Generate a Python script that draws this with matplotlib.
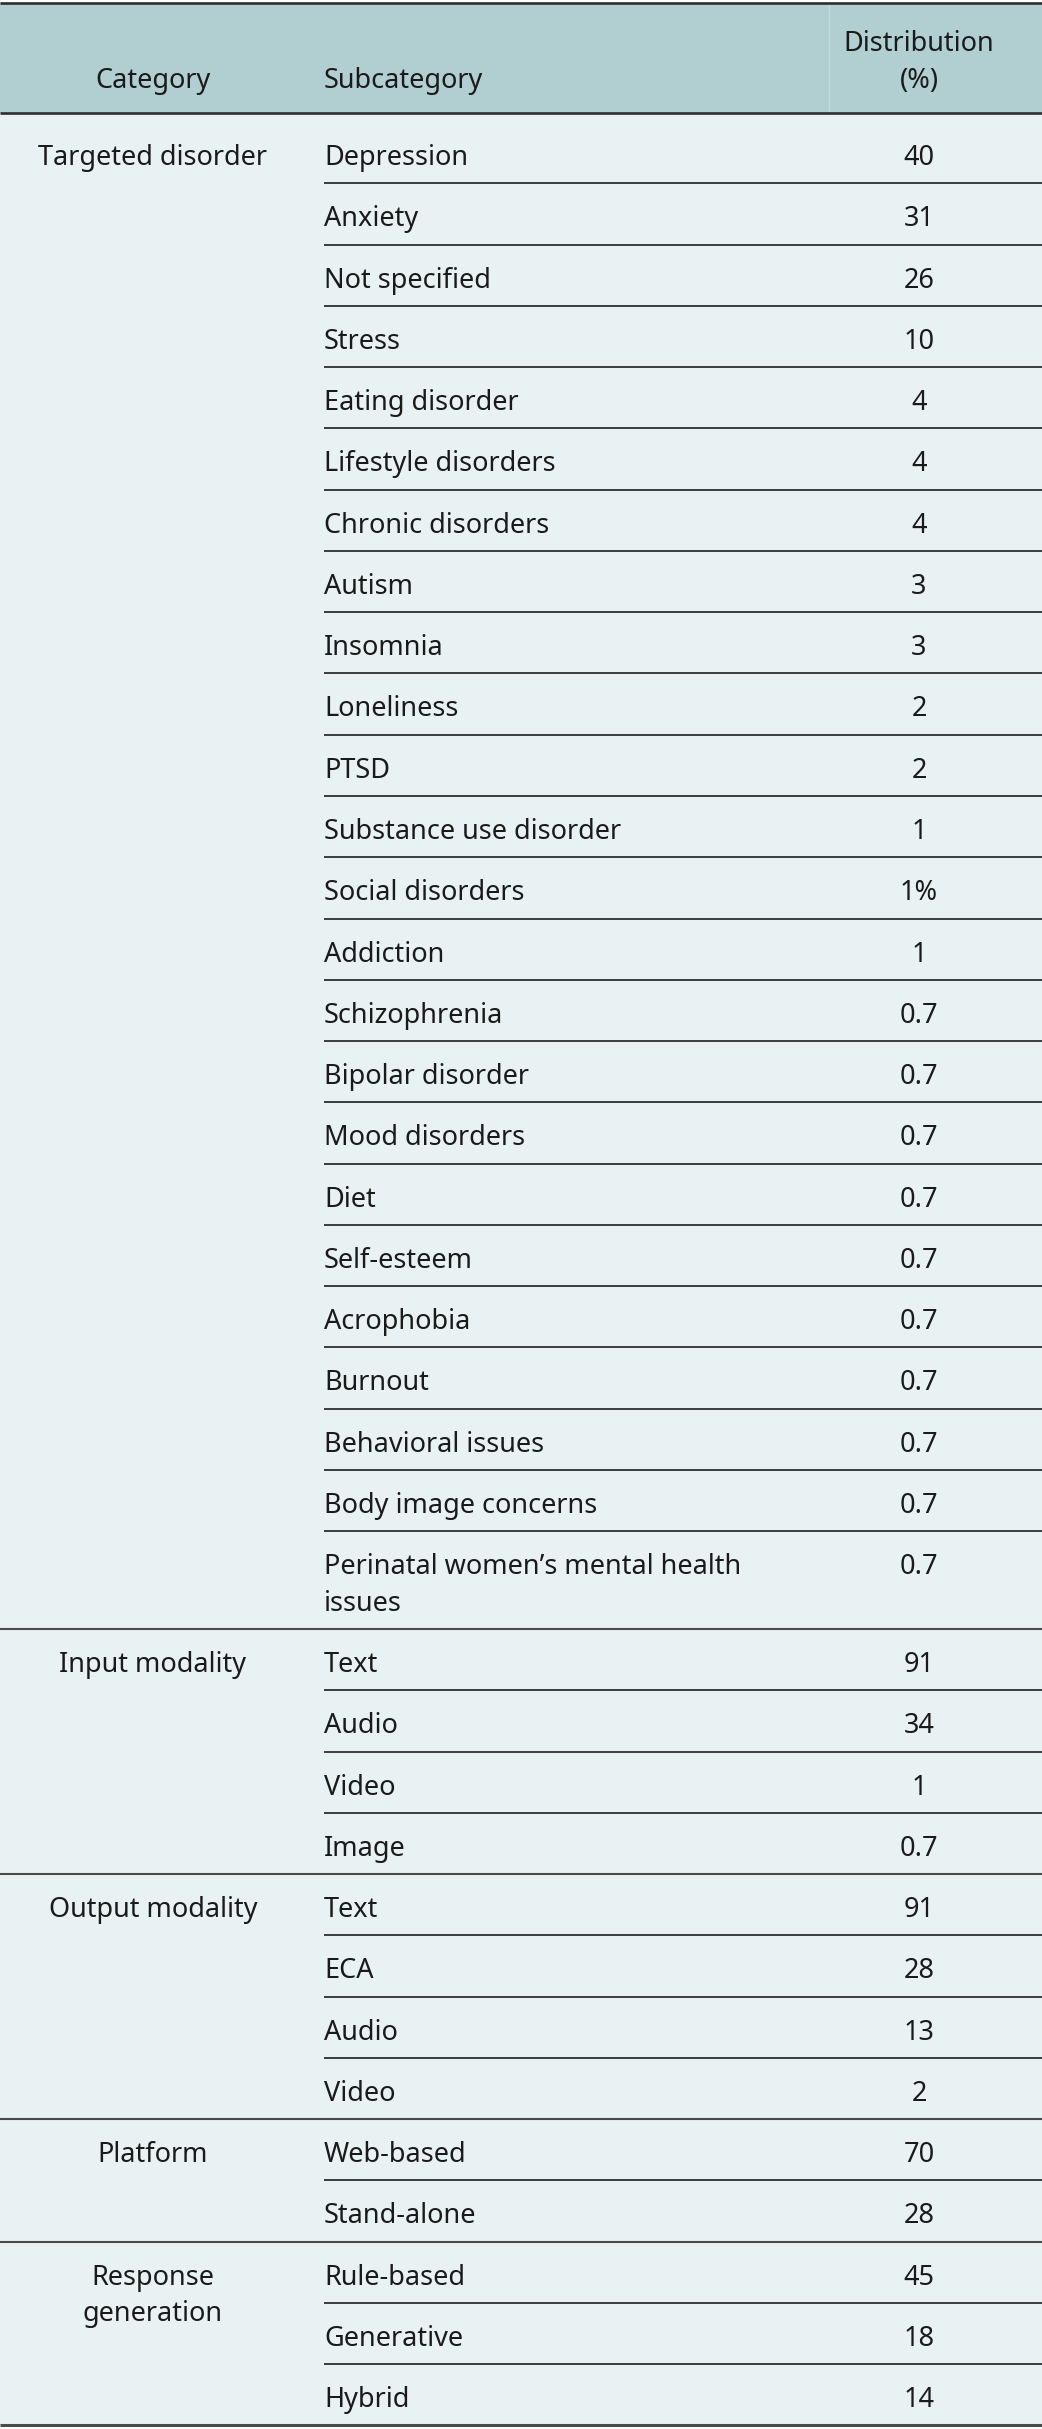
import matplotlib

matplotlib.use("Agg")
import matplotlib.pyplot as plt

# table content
categories = ["Targeted disorder", "Input modality", "Output modality", "Platform", "Response\ngeneration"]

targeted_sub = [
    "Depression", "Anxiety", "Not specified", "Stress", "Eating disorder",
    "Lifestyle disorders", "Chronic disorders", "Autism", "Insomnia", "Loneliness",
    "PTSD", "Substance use disorder", "Social disorders", "Addiction", "Schizophrenia",
    "Bipolar disorder", "Mood disorders", "Diet", "Self-esteem", "Acrophobia",
    "Burnout", "Behavioral issues", "Body image concerns",
    "Perinatal women\u2019s mental health\nissues",
]
targeted_pct = [
    "40", "31", "26", "10", "4", "4", "4", "3", "3", "2", "2", "1", "1%", "1",
    "0.7", "0.7", "0.7", "0.7", "0.7", "0.7", "0.7", "0.7", "0.7", "0.7",
]
input_sub = ["Text", "Audio", "Video", "Image"]
input_pct = ["91", "34", "1", "0.7"]
output_sub = ["Text", "ECA", "Audio", "Video"]
output_pct = ["91", "28", "13", "2"]
platform_sub = ["Web-based", "Stand-alone"]
platform_pct = ["70", "28"]
response_sub = ["Rule-based", "Generative", "Hybrid"]
response_pct = ["45", "18", "14"]

header = ["Category", "Subcategory", "Distribution\n(%)"]

groups = list(zip(
    categories,
    [targeted_sub, input_sub, output_sub, platform_sub, response_sub],
    [targeted_pct, input_pct, output_pct, platform_pct, response_pct],
))

HEAD_BG = "#b1cfd1"
BODY_BG = "#e9f2f2"
TEXT = "#1a1a1a"
LINE = "#2e2e2e"

W, H = 1042, 2429
fig = plt.figure(figsize=(W / 100, H / 100), dpi=100)
ax = fig.add_axes([0, 0, 1, 1])
ax.set_xlim(0, W)
ax.set_ylim(H, 0)
ax.axis("off")

plt.rcParams["font.family"] = ["Noto Sans", "DejaVu Sans"]
FS = 19.5

X_CAT, X_SUB, X_VAL = 153, 324, 919
ROW, LINE_GAP = 61.27, 36.5

# backgrounds
ax.axhspan(3, 113, color=HEAD_BG, lw=0)
ax.axhspan(113, 2425, color=BODY_BG, lw=0)
ax.plot([829, 829], [4, 112], color="#c3dadb", lw=1)


def put(x, y, s, ha):
    for k, part in enumerate(s.split("\n")):
        ax.text(x, y + k * LINE_GAP, part, ha=ha, va="baseline", fontsize=FS, color=TEXT)


# header
put(X_CAT, 88, header[0], "center")
put(X_SUB, 88, header[1], "left")
put(X_VAL, 51, header[2], "center")

ax.plot([0, W], [3, 3], color=LINE, lw=1.9, solid_capstyle="butt")
ax.plot([0, W], [113, 113], color=LINE, lw=1.9, solid_capstyle="butt")

y = 113.0
first = True
for gi, (cat, subs, pcts) in enumerate(groups):
    top_pad = 9 if first else 0
    put(X_CAT, y + top_pad + 43, cat, "center")
    for ri, (sub, pct) in enumerate(zip(subs, pcts)):
        nlines = sub.count("\n") + 1
        h = ROW + (nlines - 1) * LINE_GAP + top_pad
        base = y + top_pad + 43
        put(X_SUB, base, sub, "left")
        put(X_VAL, base, pct, "center")
        y += h
        top_pad = 0
        first = False
        if ri < len(subs) - 1:
            ax.plot([X_SUB, W], [y, y], color=LINE, lw=1.3, solid_capstyle="butt")
    if gi < len(groups) - 1:
        ax.plot([0, W], [y, y], color="#4a4a4a", lw=1.5, solid_capstyle="butt")

ax.plot([0, W], [y, y], color="#4a4a4a", lw=2.2, solid_capstyle="butt")

fig.savefig("out.png", dpi=100)
